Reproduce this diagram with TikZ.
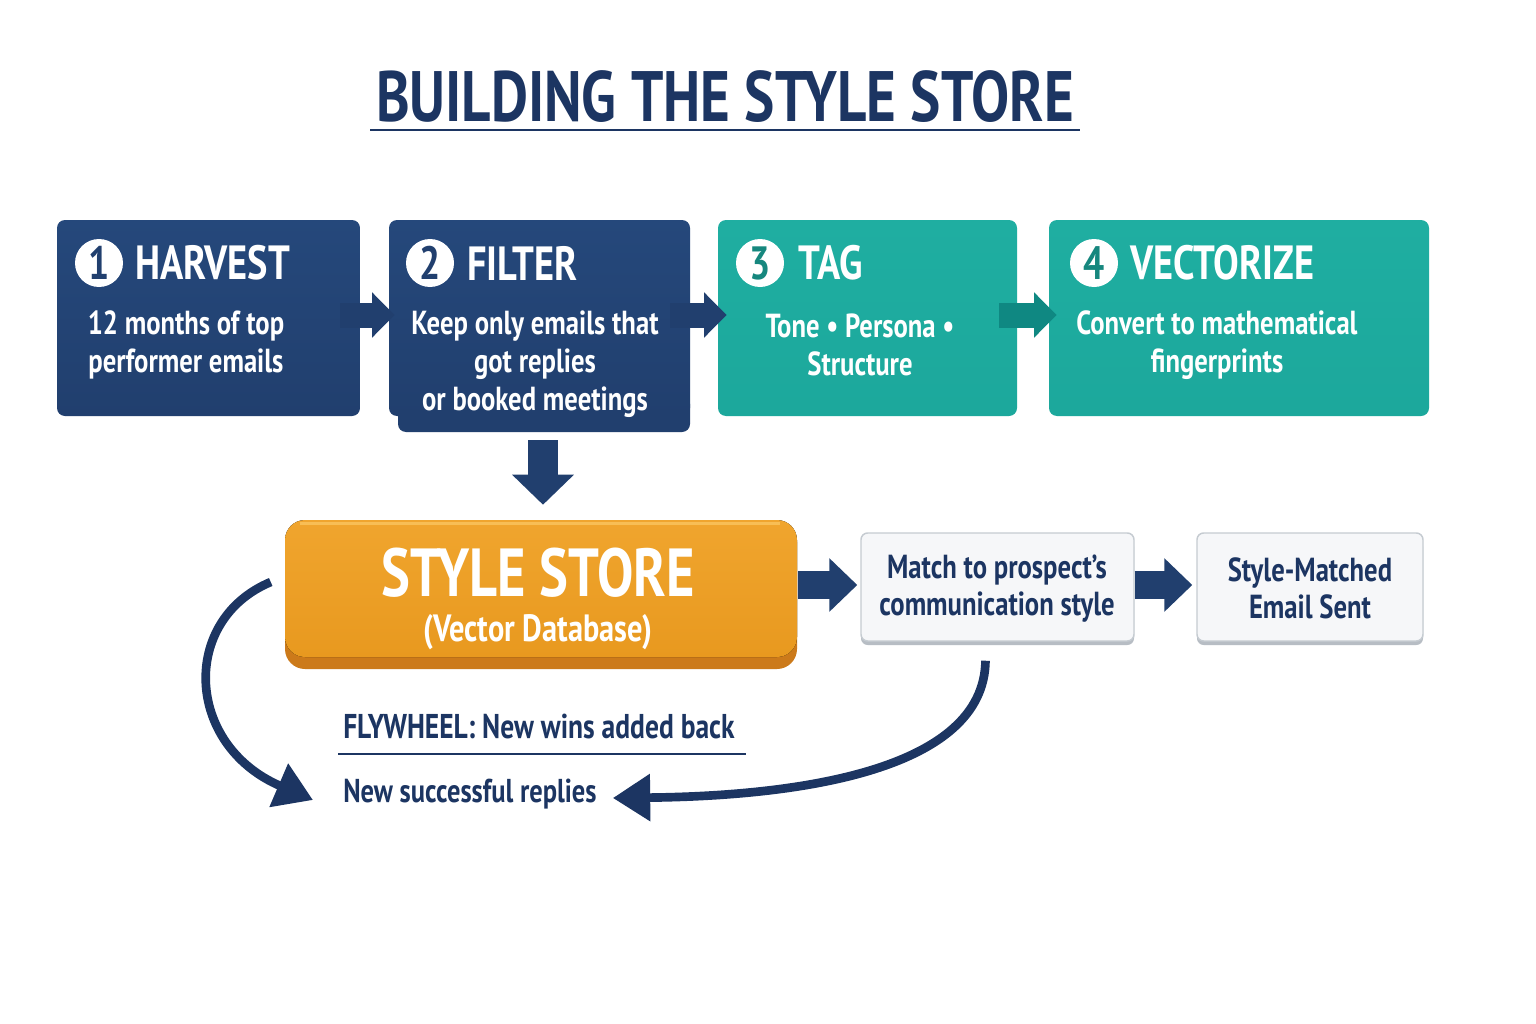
\documentclass[tikz,border=0pt]{standalone}
\usepackage{fontspec}
\setmainfont{PT Sans}[FakeStretch=0.8]
\usetikzlibrary{arrows.meta,calc}
\definecolor{navy}{HTML}{1C3562}
\definecolor{navybox}{HTML}{213F6E}
\definecolor{navytop}{HTML}{25487B}
\definecolor{teal}{HTML}{1CA89C}
\definecolor{tealtop}{HTML}{1FAEA1}
\definecolor{tealnum}{HTML}{16877E}
\definecolor{tealarrow}{HTML}{0F8882}
\definecolor{orange}{HTML}{E8991F}
\definecolor{orangetop}{HTML}{F0A52E}
\definecolor{orangedark}{HTML}{CC7A1A}
\definecolor{orangehi}{HTML}{F8BE55}
\definecolor{graybox}{HTML}{F6F7F9}
\definecolor{grayline}{HTML}{C5CBD1}
\definecolor{grayshadow}{HTML}{B7BDC4}
\tikzset{
  stepbox/.style={rounded corners=6pt, minimum height=147pt, inner sep=0pt},
  navystep/.style={stepbox, top color=navytop, bottom color=navybox},
  tealstep/.style={stepbox, top color=tealtop, bottom color=teal},
  numcirc/.style={circle, fill=white, minimum size=36pt, inner sep=0pt, font=\bfseries\fontsize{35}{35}\selectfont},
  steptitle/.style={anchor=west, text=white, inner sep=0pt, font=\bfseries\fontsize{36}{40}\selectfont},
  bodytxt/.style={text=white, align=center, inner sep=0pt, font=\bfseries\fontsize{25}{28.5}\selectfont},
  blockarrow/.style={draw=navybox, line width=18.75pt, -{Triangle[length=17pt, width=33pt]}},
  graystep/.style={rounded corners=5pt, fill=graybox, draw=grayline, line width=1.1pt, minimum height=81pt, inner sep=0pt},
  graytxt/.style={text=navy, align=center, inner sep=0pt, font=\bfseries\fontsize{25}{27.75}\selectfont},
  loop/.style={draw=navy, line width=6.5pt, -{Triangle[length=28pt, width=34pt]}},
  navytxt/.style={text=navy, inner sep=0pt, anchor=west}
}
\begin{document}
\begin{tikzpicture}[x=0.75pt,y=-0.75pt]
\useasboundingbox (0,0) rectangle (1536,1024);
\fill[white] (0,0) rectangle (1536,1024);

% title
\node[text=navy, inner sep=0pt, font=\bfseries\fontsize{53.5}{58}\selectfont] (title) at (725,97) {BUILDING THE STYLE STORE};
\draw[navy, line width=2.2pt] (370,130) -- (1080,130);

% step boxes
\fill[navybox, rounded corners=6pt] (398,396) rectangle (690,432);
\node[navystep, minimum width=227.25pt] (h1) at (208.5,318) {};
\node[navystep, minimum width=225.75pt] (f2) at (539.5,318) {};
\node[tealstep, minimum width=224.25pt] (t3) at (867.5,318) {};
\node[tealstep, minimum width=285pt] (v4) at (1239,318) {};

% numbers and titles
\node[numcirc, text=navybox] (c1) at (99,263) {1};
\node[steptitle] (s1) at (135,263) {HARVEST};
\node[numcirc, text=navybox] (c2) at (430,263) {2};
\node[steptitle] (s2) at (467,263) {FILTER};
\node[numcirc, text=tealnum] (c3) at (760,263) {3};
\node[steptitle] (s3) at (798,263) {TAG};
\node[numcirc, text=tealnum] (c4) at (1094,263) {4};
\node[steptitle] (s4) at (1130,263) {VECTORIZE};

% bodies
\node[bodytxt] (b1) at (186,345) {12 months of top\\performer emails};
\node[bodytxt] (b2) at (535,364) {Keep only emails that\\got replies\\or booked meetings};
\node[bodytxt] (b3) at (860,345) {Tone • Persona •\\Structure};
\node[bodytxt] (b4) at (1217,345) {Convert to mathematical\\fingerprints};

% top arrows
\draw[blockarrow] ($(h1.east)+(-20,-3)$) -- ($(f2.west)+(6,-3)$);
\draw[blockarrow] ($(f2.east)+(-20,-3)$) -- ($(t3.west)+(9,-3)$);
\draw[blockarrow, draw=tealarrow] ($(t3.east)+(-18,-3)$) -- ($(v4.west)+(8,-3)$);

% style store
\fill[orangedark, rounded corners=15pt] (285,522) rectangle (797,669);
\fill[top color=orangetop, bottom color=orange, rounded corners=15pt] (285,520) rectangle (797,657);
\draw[orangehi, line width=2.5pt, rounded corners=13pt] (300,523.5) -- (780,523.5);
\node[minimum width=384pt, minimum height=111pt, inner sep=0pt] (ss) at (541,594) {};
\node[text=white, inner sep=0pt, anchor=base, text depth=0pt, font=\bfseries\fontsize{51}{54}\selectfont] (sst) at (538,596) {STYLE STORE};
\node[text=white, inner sep=0pt, anchor=base, font=\bfseries\fontsize{28.5}{31}\selectfont] (ssb) at (538,641) {(Vector Database)};

% down arrow
\draw[draw=navybox, line width=22.5pt, -{Triangle[length=22.5pt, width=45pt]}] ($(f2.south)+(3.5,24)$) -- ($(ss.north)+(2,-15)$);

% gray boxes
\fill[grayshadow, rounded corners=5pt] (861,540) rectangle (1134,645);
\node[graystep, minimum width=204.75pt] (m) at (997.5,587) {};
\node[graytxt] (mt) at (997,589) {Match to prospect’s\\communication style};
\fill[grayshadow, rounded corners=5pt] (1197,540) rectangle (1423,645);
\node[graystep, minimum width=169.5pt] (e) at (1310,587) {};
\node[graytxt] (et) at (1310,588) {Style-Matched\\Email Sent};

% right arrows
\draw[blockarrow, line width=21pt, -{Triangle[length=21pt, width=39pt]}] ($(ss.east)+(1,-9)$) -- ($(m.west)+(-3,-2)$);
\draw[blockarrow, line width=21pt, -{Triangle[length=21pt, width=39pt]}] ($(m.east)+(0,-2)$) -- ($(e.west)+(-4,-2)$);

% flywheel
\node[navytxt, font=\bfseries\fontsize{25.8}{28}\selectfont] (fw) at (343,727) {FLYWHEEL: New wins added back};
\draw[navy, line width=1.9pt] (338,754) -- (746,754);
\node[navytxt, font=\bfseries\fontsize{24.8}{28}\selectfont] (nr) at (343,794) {New successful replies};
\coordinate (fwstart) at ($(ss.west)+(-14,-12)$);
\draw[loop] (fwstart) .. controls (180,620) and (185,745) .. ($(nr.west)+(-30,6)$);
\coordinate (mstart) at ($(m.south)+(-12,19)$);
\draw[loop] (mstart) .. controls (984,770) and (800,796) .. ($(nr.east)+(16,4)$);
\end{tikzpicture}
\end{document}
